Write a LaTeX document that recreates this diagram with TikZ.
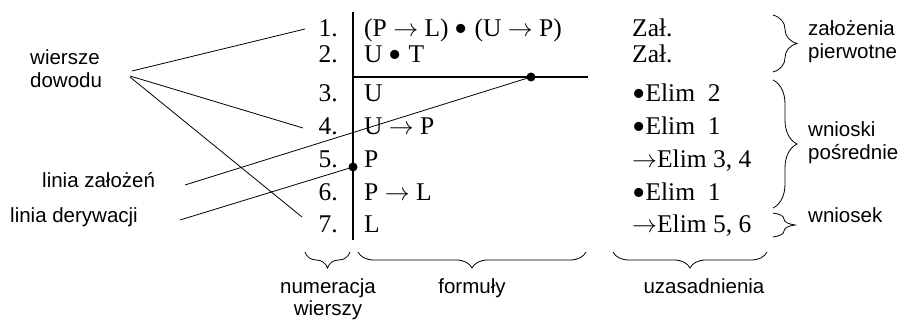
\documentclass[tikz,border=0pt]{standalone}
\usepackage{fontspec}
\setmainfont{Liberation Serif}
\setsansfont{Liberation Sans}
\usetikzlibrary{decorations.pathreplacing}
\newcommand{\bul}{{\fontsize{38}{30}\selectfont\raisebox{-0.13em}{•}}}
\newcommand{\arr}{\ensuremath{\rightarrow}}
\begin{document}
\begin{tikzpicture}[x=1pt,y=-1pt,
  num/.style={anchor=base east,inner sep=0,font=\fontsize{25.5}{30}\selectfont},
  frm/.style={anchor=base west,inner sep=0,font=\fontsize{25.5}{30}\selectfont},
  lbl/.style={inner sep=0,font=\sffamily\fontsize{20.5}{23}\selectfont,align=left},
  lblc/.style={inner sep=0,font=\sffamily\fontsize{20.5}{22}\selectfont,align=center},
  conn/.style={line width=0.8pt},
  rule/.style={line width=2.5pt},
  brc/.style={decorate,decoration={brace,amplitude=#1},line width=0.8pt},
  dotc/.style={circle,fill,inner sep=0,minimum size=9pt}]
\useasboundingbox (0,0) rectangle (913,320);

% line numbers
\node[num] (n1) at (338,37) {1.};
\node[num] (n2) at (338,63) {2.};
\node[num] (n3) at (338,102) {3.};
\node[num] (n4) at (338,135) {4.};
\node[num] (n5) at (338,168) {5.};
\node[num] (n6) at (338,201) {6.};
\node[num] (n7) at (338,233) {7.};

% formulas
\node[frm] (f1) at (364,37) {(P \arr{} L) \bul{} (U \arr{} P)};
\node[frm] (f2) at (364,63) {U \bul{} T};
\node[frm] (f3) at (364,102) {U};
\node[frm] (f4) at (364,135) {U \arr{} P};
\node[frm] (f5) at (364,168) {P};
\node[frm] (f6) at (364,201) {P \arr{} L};
\node[frm] (f7) at (364,233) {L};

% justifications
\node[frm] (j1) at (632,37) {Zał.};
\node[frm] (j2) at (632,63) {Zał.};
\node[frm] (j3) at (632,102) {\bul{}Elim\ \ 2};
\node[frm] (j4) at (632,135) {\bul{}Elim\ \ 1};
\node[frm] (j5) at (632,168) {\arr{}Elim 3, 4};
\node[frm] (j6) at (632,201) {\bul{}Elim\ \ 1};
\node[frm] (j7) at (632,233) {\arr{}Elim 5, 6};

% derivation and assumption lines
\coordinate (vtop) at (353,12);
\coordinate (vbot) at (353,240);
\coordinate (hl) at (353,77);
\coordinate (hr) at (588,77);
\draw[rule] (vtop) -- (vbot);
\draw[rule] (hl) -- (hr);
\node[dotc] (d1) at (531,77) {};
\node[dotc] (d2) at (353,167) {};

% left labels
\node[lbl,anchor=base west] (wd) at (30,88) {wiersze\\dowodu};
\node[lbl,anchor=base west] (lz) at (42,188) {linia założeń};
\node[lbl,anchor=base west] (ld) at (10,223) {linia derywacji};

\coordinate (w1) at (132,71);
\coordinate (w2) at (130,76);
\coordinate (w3) at (130,77);
\coordinate (e1) at (305,29);
\coordinate (e4) at (303,128);
\coordinate (e7) at (302,217);
\draw[conn] (w1) -- (e1);
\draw[conn] (w2) -- (e4);
\draw[conn] (w3) -- (e7);

\coordinate (lzs) at (185,185);
\coordinate (lds) at (180,220);
\draw[conn] (lzs) -- (d1.center);
\draw[conn] (lds) -- (d2.center);

% right braces and labels
\draw[brc=24pt] (773,15) -- (773,72);
\draw[brc=24pt] (773,80) -- (773,208);
\draw[brc=22pt] (773,213) -- (773,237);
\node[lbl,anchor=base west] (zp) at (808,59) {założenia\\pierwotne};
\node[lbl,anchor=base west] (wp) at (808,160) {wnioski\\pośrednie};
\node[lbl,anchor=base west] (wn) at (808,223) {wniosek};

% bottom braces and labels
\draw[brc=16pt] (350,252) -- (305,252);
\draw[brc=16pt] (586,252) -- (358,252);
\draw[brc=16pt] (767,252) -- (613,252);
\node[lblc,anchor=base] (nw) at (328,316) {numeracja\\wierszy};
\node[lblc,anchor=base] (fo) at (472,294) {formuły};
\node[lblc,anchor=base] (uz) at (704,294) {uzasadnienia};
\end{tikzpicture}
\end{document}
